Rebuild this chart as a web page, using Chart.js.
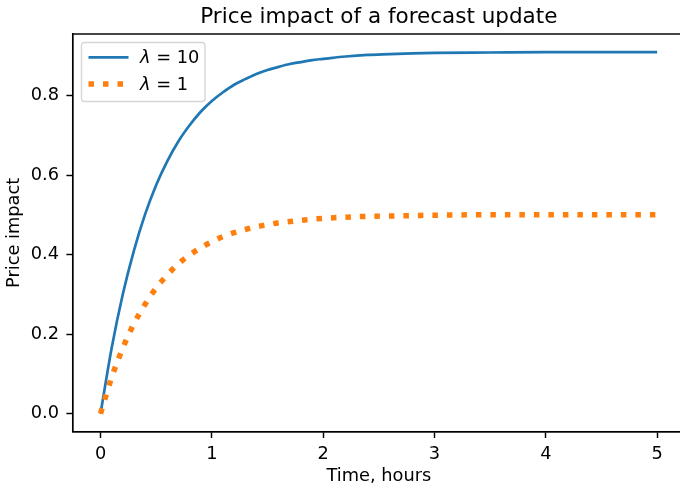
<!DOCTYPE html>
<html lang="en">
<head>
    <meta charset="UTF-8" />
    <title>Price impact of a forecast update</title>
    <style>
        body { margin: 0; padding: 0; background: #fff; }
        #wrap { width: 680px; height: 489px; overflow: hidden; position: relative; }
        canvas { display: block; }
    </style>
    <script src="https://cdn.jsdelivr.net/npm/chart.js"></script>
</head>
<body>
<div id="wrap">
    <canvas id="impactChart" width="690" height="489"></canvas>
</div>
<script>
    // Data
    const times = [0, 0.1, 0.2, 0.3, 0.4, 0.5, 0.6, 0.7, 0.8, 0.9, 1.0, 1.1, 1.2, 1.3, 1.4, 1.5, 1.6, 1.7, 1.8, 1.9, 2.0,
        2.2, 2.4, 2.6, 2.8, 3.0, 3.5, 4.0, 4.5, 5.0];
    const impactLambda10 = [0, 0.165, 0.300, 0.410, 0.501, 0.575, 0.635, 0.685, 0.725, 0.759, 0.786, 0.808, 0.827, 0.841,
        0.854, 0.864, 0.872, 0.879, 0.884, 0.889, 0.892, 0.898, 0.902, 0.904, 0.906, 0.907, 0.908, 0.909, 0.909, 0.909];
    const impactLambda1 = [0, 0.091, 0.165, 0.226, 0.275, 0.316, 0.349, 0.377, 0.399, 0.417, 0.432, 0.445, 0.455, 0.463,
        0.470, 0.475, 0.480, 0.483, 0.486, 0.489, 0.491, 0.494, 0.496, 0.497, 0.498, 0.499, 0.500, 0.500, 0.500, 0.500];
    const xTicks = [0, 1, 2, 3, 4, 5];
    const yTicks = [0.0, 0.2, 0.4, 0.6, 0.8];
    const seriesLabels = ['10', '1'];

    const FONT = 'DejaVu Sans';
    const FS = 17.8;
    const BLUE = '#1f77b4';
    const ORANGE = '#ff7f0e';

    const toPoints = (ys) => times.map((t, i) => ({ x: t, y: ys[i] }));

    // frame, title and legend drawn like matplotlib
    const frameAndLegend = {
        id: 'frameAndLegend',
        afterDraw(chart) {
            const ctx = chart.ctx;
            const a = chart.chartArea;
            ctx.save();
            ctx.strokeStyle = '#000';
            ctx.lineWidth = 1.45;
            ctx.strokeRect(a.left, a.top, a.right - a.left, a.bottom - a.top);

            // title
            ctx.fillStyle = '#000';
            ctx.font = '21.5px "' + FONT + '"';
            ctx.textAlign = 'center';
            ctx.textBaseline = 'alphabetic';
            ctx.fillText('Price impact of a forecast update', (a.left + a.right) / 2, 23);

            // legend box
            const bx = 81.5, by = 42.5, bw = 123.5, bh = 59, r = 3;
            ctx.beginPath();
            ctx.moveTo(bx + r, by);
            ctx.arcTo(bx + bw, by, bx + bw, by + bh, r);
            ctx.arcTo(bx + bw, by + bh, bx, by + bh, r);
            ctx.arcTo(bx, by + bh, bx, by, r);
            ctx.arcTo(bx, by, bx + bw, by, r);
            ctx.closePath();
            ctx.fillStyle = 'rgba(255,255,255,0.8)';
            ctx.fill();
            ctx.strokeStyle = '#d6d6d6';
            ctx.lineWidth = 1.4;
            ctx.stroke();

            const rows = [57.3, 84];
            chart.data.datasets.forEach((ds, i) => {
                const y = rows[i];
                ctx.beginPath();
                ctx.strokeStyle = ds.borderColor;
                ctx.lineWidth = ds.borderWidth;
                ctx.lineCap = 'butt';
                ctx.setLineDash(ds.borderDash || []);
                ctx.moveTo(88.5, y);
                ctx.lineTo(128.5, y);
                ctx.stroke();
                ctx.setLineDash([]);

                ctx.fillStyle = '#000';
                ctx.textAlign = 'left';
                ctx.textBaseline = 'middle';
                ctx.font = 'italic ' + FS + 'px "' + FONT + '"';
                ctx.fillText('\u03bb', 140, y + 1);
                const w = ctx.measureText('\u03bb').width;
                ctx.font = FS + 'px "' + FONT + '"';
                ctx.fillText(' = ' + seriesLabels[i], 140 + w, y + 1);
            });
            ctx.restore();
        }
    };

    new Chart(document.getElementById('impactChart').getContext('2d'), {
        type: 'line',
        data: {
            datasets: [{
                label: '\u03bb = 10',
                data: toPoints(impactLambda10),
                borderColor: BLUE,
                borderWidth: 2.7,
                pointRadius: 0,
                fill: false,
                cubicInterpolationMode: 'monotone',
                order: 1
            }, {
                label: '\u03bb = 1',
                data: toPoints(impactLambda1),
                borderColor: ORANGE,
                borderWidth: 5.5,
                borderDash: [5.5, 9],
                borderCapStyle: 'butt',
                pointRadius: 0,
                fill: false,
                cubicInterpolationMode: 'monotone',
                order: 0
            }]
        },
        options: {
            responsive: false,
            animation: false,
            layout: { padding: { left: 0, right: 5, top: 34, bottom: 0 } },
            plugins: {
                legend: { display: false },
                title: { display: false },
                tooltip: { enabled: false }
            },
            scales: {
                x: {
                    type: 'linear',
                    min: -0.25,
                    max: 5.25,
                    afterBuildTicks: (s) => { s.ticks = xTicks.map(v => ({ value: v })); },
                    afterFit: (s) => { s.height = 57.3; },
                    grid: { display: true, drawOnChartArea: false, drawTicks: true, tickLength: 6.3, tickColor: '#000', tickWidth: 1.45 },
                    border: { display: true, color: '#000', width: 1.45 },
                    ticks: { color: '#000', padding: 5.5, maxRotation: 0, font: { family: FONT, size: FS }, callback: (v) => String(v) },
                    title: { display: true, text: 'Time, hours', color: '#000', font: { family: FONT, size: FS }, padding: { top: 2.3, bottom: 2.3 } }
                },
                y: {
                    type: 'linear',
                    min: -0.04545,
                    max: 0.95455,
                    afterBuildTicks: (s) => { s.ticks = yTicks.map(v => ({ value: v })); },
                    afterFit: (s) => { s.width = 72.7; },
                    grid: { display: true, drawOnChartArea: false, drawTicks: true, tickLength: 6.3, tickColor: '#000', tickWidth: 1.45 },
                    border: { display: true, color: '#000', width: 1.45 },
                    ticks: { color: '#000', padding: 7.4, font: { family: FONT, size: FS }, callback: (v) => v.toFixed(1) },
                    title: { display: true, text: 'Price impact', color: '#000', font: { family: FONT, size: FS }, padding: { top: 3.3, bottom: 3.3 } }
                }
            }
        },
        plugins: [frameAndLegend]
    });
</script>
</body>
</html>
